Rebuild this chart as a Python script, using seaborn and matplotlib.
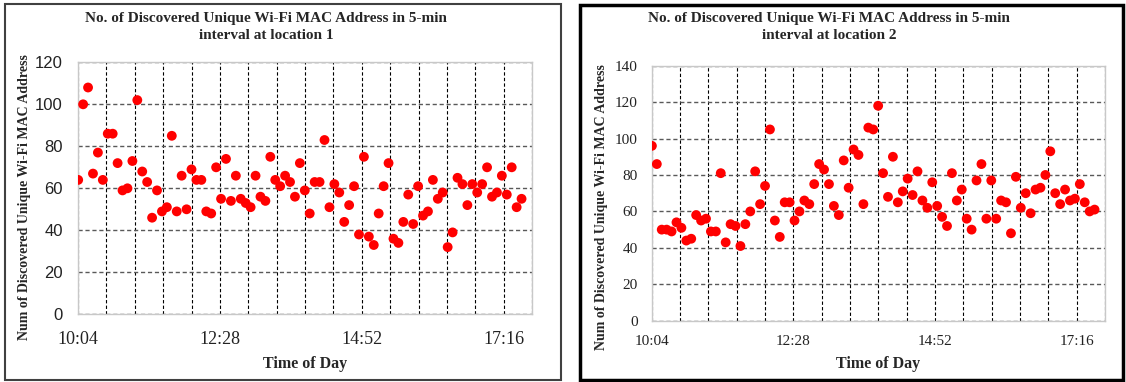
import numpy as np
import pandas as pd
import matplotlib
matplotlib.use("Agg")
import matplotlib.pyplot as plt
import seaborn as sns
from matplotlib.patches import Rectangle
from matplotlib.ticker import MultipleLocator

# ---------------- data ----------------
start_time = "10:05"
interval = "5min"

loc1_counts = [64, 100, 108, 67, 77, 64, 86, 86, 72, 59,
               60, 73, 102, 68, 63, 46, 59, 49, 51, 85,
               49, 66, 50, 69, 64, 64, 49, 48, 70, 55,
               74, 54, 66, 55, 53, 51, 66, 56, 54, 75,
               64, 61, 66, 63, 56, 72, 59, 48, 63, 63,
               83, 51, 62, 58, 44, 52, 61, 38, 75, 37,
               33, 48, 61, 72, 36, 34, 44, 57, 43, 61,
               47, 49, 64, 55, 58, 32, 39, 65, 62, 52,
               62, 58, 62, 70, 56, 58, 66, 57, 70, 51,
               55]

loc2_counts = [96, 86, 50, 50, 49, 54, 51, 44, 45, 58,
               55, 56, 49, 49, 81, 43, 53, 52, 41, 53,
               60, 82, 64, 74, 105, 55, 46, 65, 65, 55,
               60, 66, 64, 75, 86, 83, 75, 63, 58, 88,
               73, 94, 91, 64, 106, 105, 118, 81, 68, 90,
               65, 71, 78, 69, 82, 66, 62, 76, 63, 57,
               52, 81, 66, 72, 56, 50, 77, 86, 56, 77,
               56, 66, 65, 48, 79, 62, 70, 59, 72, 73,
               80, 93, 70, 64, 72, 66, 67, 75, 65, 60,
               61]

x_tick_labels = ["10:04", "12:28", "14:52", "17:16"]
x_tick_minutes = [604.8, 748.8, 892.8, 1036.8]
x_limits = (604.8, 1065.6)
x_grid_step = 28.8

y_ticks_1 = [0, 20, 40, 60, 80, 100, 120]
y_ticks_2 = [0, 20, 40, 60, 80, 100, 120, 140]

titles = ["No. of Discovered Unique Wi-Fi MAC Address in 5-min\ninterval at location 1",
          "No. of Discovered Unique Wi-Fi MAC Address in 5-min\ninterval at location 2"]
y_label = "Num of Discovered Unique Wi-Fi MAC Address"
x_label = "Time of Day"

# ---------------- frames ----------------
times = pd.date_range("2000-01-01 " + start_time, periods=len(loc1_counts), freq=interval)
minutes = np.asarray(times.hour * 60 + times.minute, dtype=float)
df1 = pd.DataFrame({"minute": minutes, "count": loc1_counts})
df2 = pd.DataFrame({"minute": minutes, "count": loc2_counts})

sns.set_style("white")
SERIF = ["Liberation Serif", "DejaVu Serif"]
SANS = ["Liberation Sans", "DejaVu Sans"]

W, H = 1126, 382
fig = plt.figure(figsize=(W / 100, H / 100), dpi=100)


def fx(px):
    return px / W


def fy(py):
    return 1 - py / H


# panel border boxes
fig.patches.append(Rectangle((fx(5), fy(380)), fx(556), (376) / H, transform=fig.transFigure,
                             fill=False, edgecolor="#404040", linewidth=1.5))
fig.patches.append(Rectangle((fx(580), fy(380)), fx(543), (375) / H, transform=fig.transFigure,
                             fill=False, edgecolor="#000000", linewidth=2.5))

panels = [
    dict(df=df1, rect=[fx(78), fy(314.3), fx(532 - 78), (314.3 - 62.3) / H], yt=y_ticks_1,
         ylim=(0, 120), title=titles[0], tx=266, ylx=25, yly=197, ysans=True,
         xls=13, yls=12, xpad=12, ypad=11),
    dict(df=df2, rect=[fx(651.7), fy(320.7), fx(1105 - 651.7), (320.7 - 65.7) / H], yt=y_ticks_2,
         ylim=(0, 140), title=titles[1], tx=829, ylx=602, yly=207, ysans=False,
         xls=11, yls=11, xpad=10, ypad=10),
]

for p in panels:
    ax = fig.add_axes(p["rect"])
    sns.scatterplot(data=p["df"], x="minute", y="count", ax=ax, color="#ff0000",
                    s=50, edgecolor="none", linewidth=0, zorder=3, legend=False)
    ax.set_xlim(*x_limits)
    ax.set_ylim(*p["ylim"])
    ax.set_xticks(x_tick_minutes)
    ax.set_xticklabels(x_tick_labels)
    ax.xaxis.set_minor_locator(MultipleLocator(x_grid_step))
    ax.set_yticks(p["yt"])
    ax.set_yticklabels([str(v) for v in p["yt"]])
    ax.set_axisbelow(True)
    ax.grid(axis="x", which="both", linestyle=(0, (3, 2)), color="#000000", linewidth=0.8)
    ax.grid(axis="y", which="major", linestyle=(0, (3, 2)), color="#595959", linewidth=1.0)
    ax.tick_params(which="both", length=0)
    ax.tick_params(axis="x", pad=p["xpad"])
    ax.tick_params(axis="y", pad=p["ypad"])
    for lab in ax.get_xticklabels():
        lab.set_family(SERIF)
        lab.set_fontsize(p["xls"])
        lab.set_color("#222222")
    for lab in ax.get_yticklabels():
        lab.set_family(SANS if p["ysans"] else SERIF)
        lab.set_fontsize(p["yls"])
        lab.set_color("#222222")
    for s in ax.spines.values():
        s.set_color("#c8c8c8")
        s.set_linewidth(1.0)
    ax.set_xlabel(x_label, family=SERIF, fontsize=11.5, fontweight="bold", labelpad=6)
    ax.set_ylabel("")
    fig.text(fx(p["tx"]), fy(27), p["title"], ha="center", va="center", family=SERIF,
             fontsize=11, fontweight="bold", linespacing=1.45)
    fig.text(fx(p["ylx"]), fy(p["yly"]), y_label, rotation=90, ha="center", va="center",
             family=SERIF, fontsize=10, fontweight="bold")

fig.savefig("out.png", dpi=100)
